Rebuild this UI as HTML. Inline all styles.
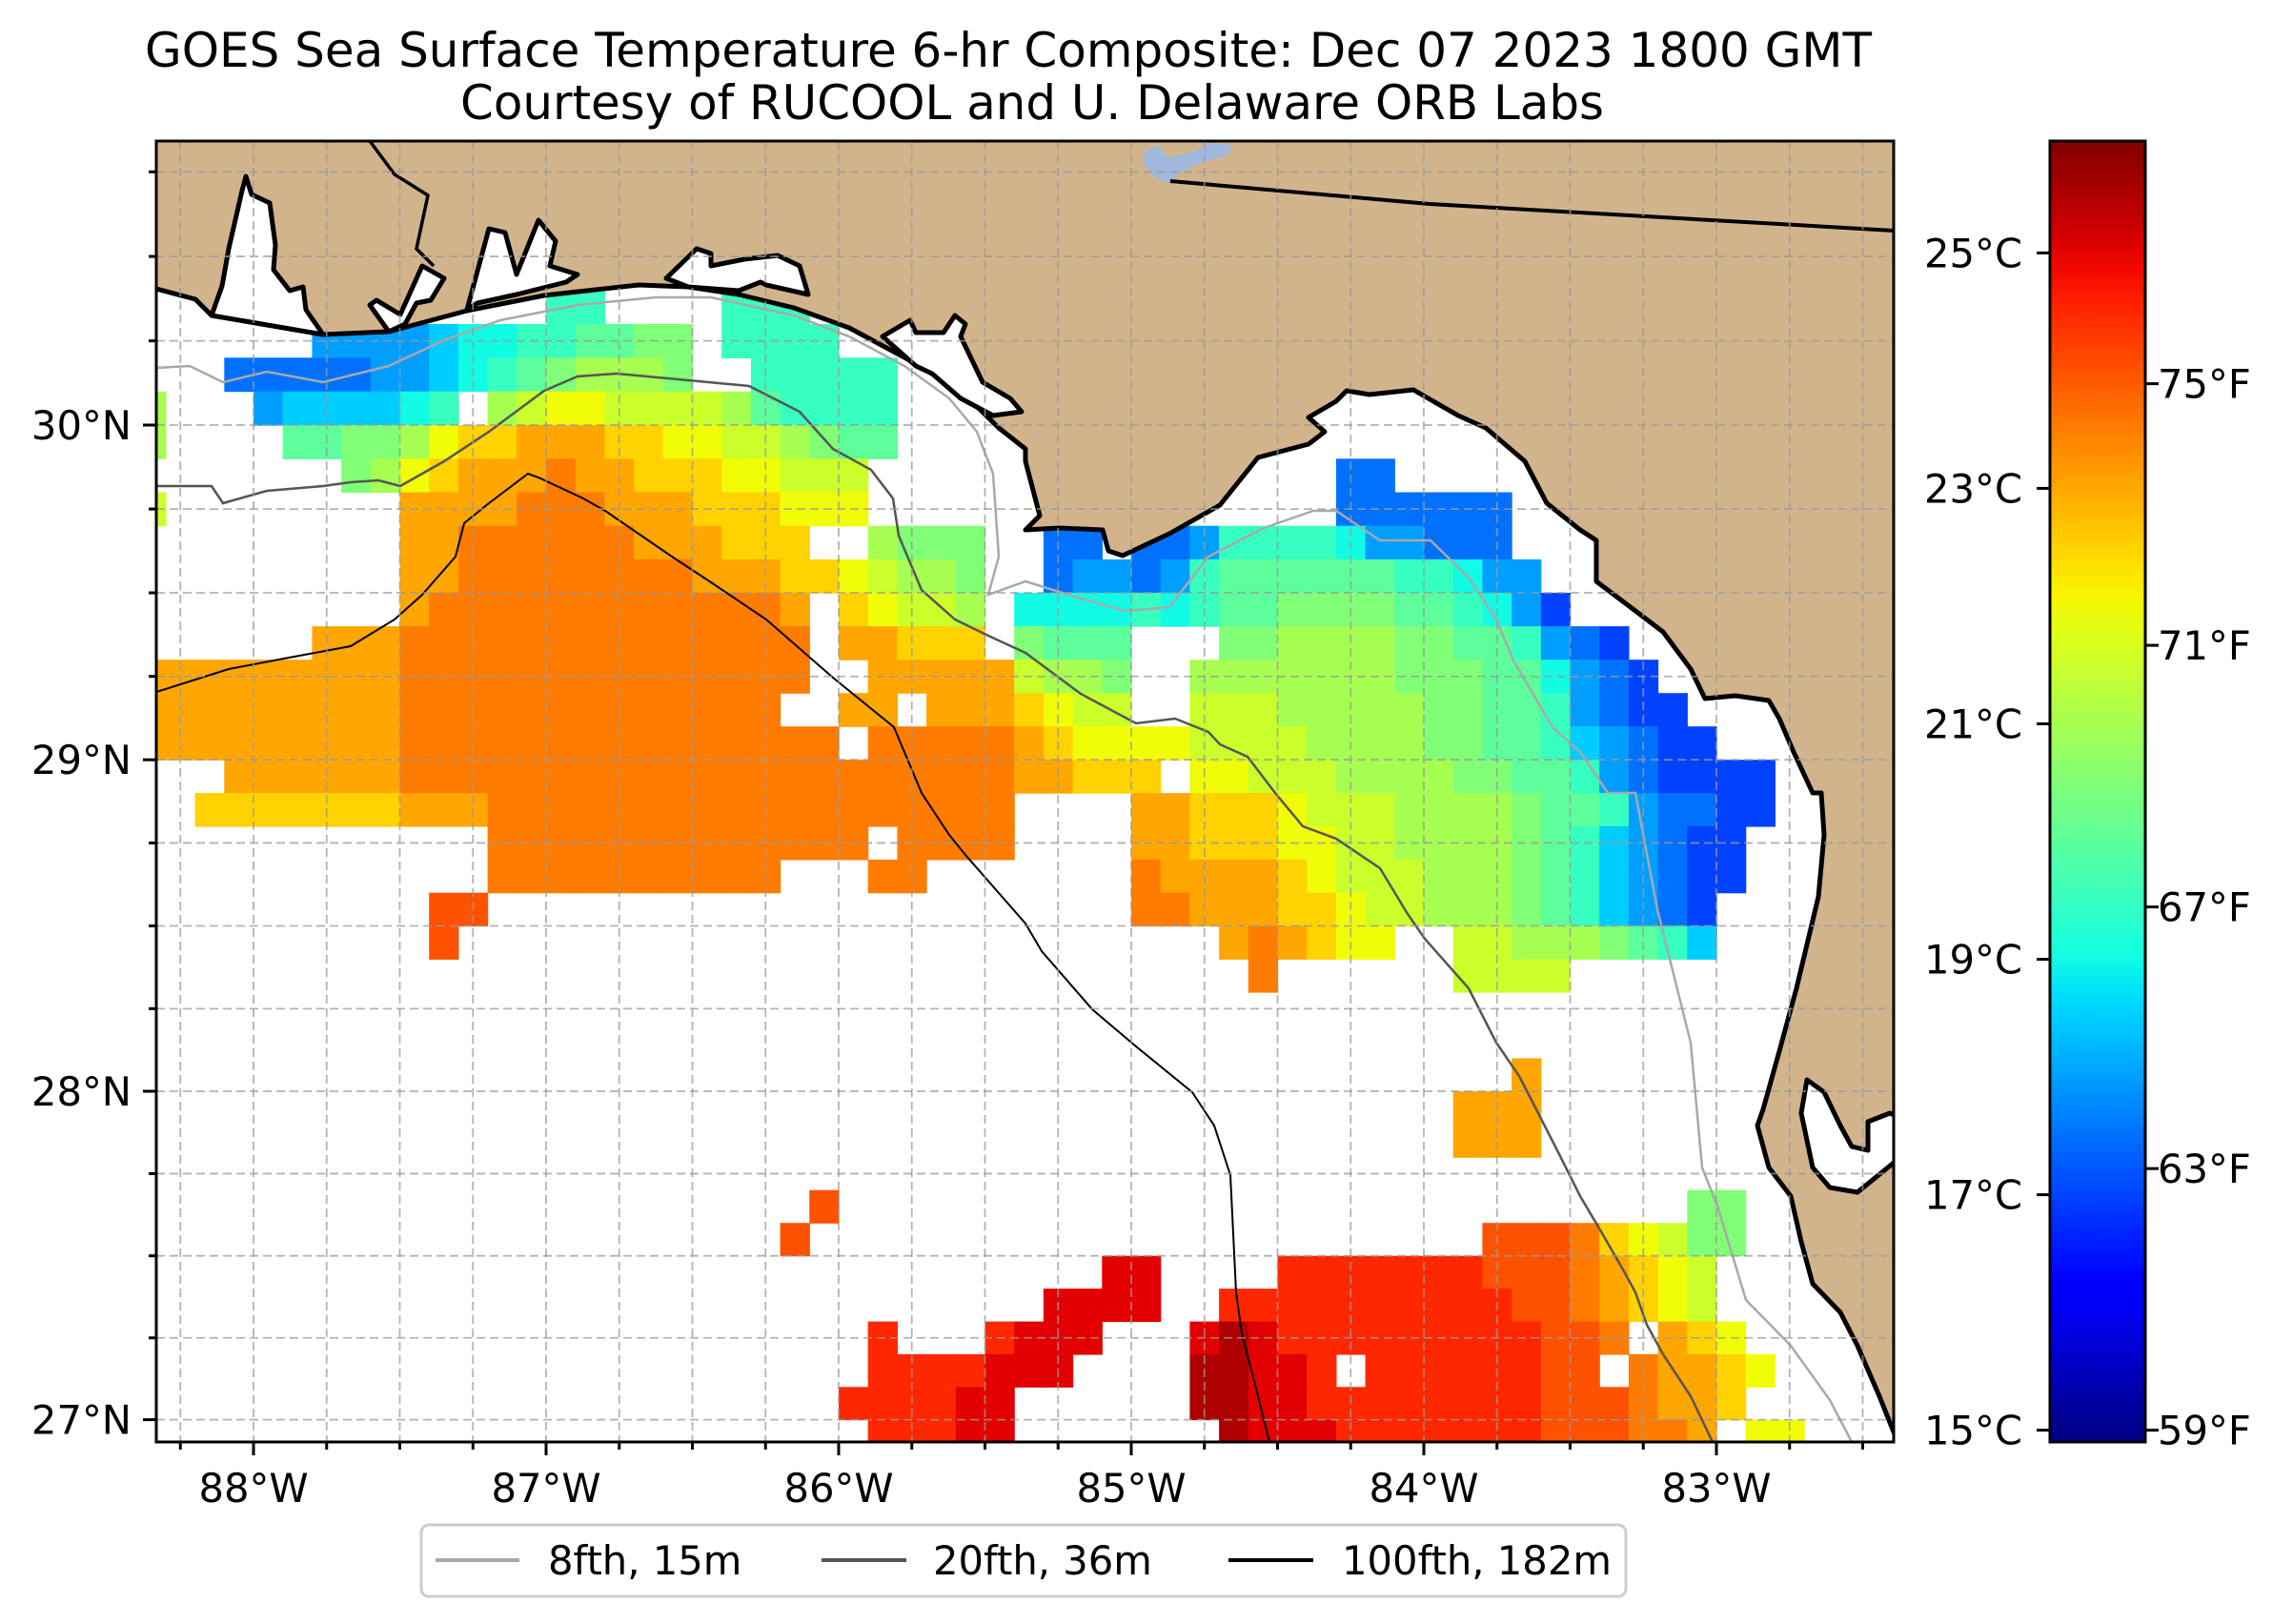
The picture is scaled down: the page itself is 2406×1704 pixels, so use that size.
<!DOCTYPE html>
<html><head><meta charset="utf-8"><style>
html,body{margin:0;padding:0;background:#fff;}
svg{display:block;font-family:"DejaVu Sans","Liberation Sans",sans-serif;}
</style></head><body>
<svg id="fig" width="2406" height="1704" viewBox="0 0 2406 1704" xmlns="http://www.w3.org/2000/svg">
<defs>
<clipPath id="mapclip"><rect x="164" y="148" width="1823" height="1365"/></clipPath>
<linearGradient id="jetgrad" x1="0" y1="1" x2="0" y2="0"></linearGradient>
</defs>
<rect x="0" y="0" width="2406" height="1704" fill="#fff"/>
<text x="1058" y="70" text-anchor="middle" font-size="50" textLength="1812" lengthAdjust="spacingAndGlyphs">GOES Sea Surface Temperature 6-hr Composite: Dec 07 2023 1800 GMT</text>
<text x="1083" y="125" text-anchor="middle" font-size="50" textLength="1200" lengthAdjust="spacingAndGlyphs">Courtesy of RUCOOL and U. Delaware ORB Labs</text>
<g id="map" clip-path="url(#mapclip)">
  <g id="cells"></g>
  <path fill="#d2b48c" stroke="#000" stroke-width="5" stroke-linejoin="round"
   d="M164,303 L205,314 L222,331 L339,351 L408,348 L490,326 L571,310 L670,299 L722,301 L775,309 L833,323 L891,344 L949,375 L1008,410 L1048,449 L1076,471 L1076,484 L1091,541 L1076,556 L1111,554 L1157,556 L1163,578 L1178,583 L1227,560 L1280,530 L1320,480 L1373,466 L1390,453 L1373,438 L1402,421 L1413,410 L1437,414 L1483,409 L1530,436 L1559,449 L1600,484 L1623,528 L1658,556 L1675,567 L1675,610 L1716,641 L1745,663 L1774,702 L1789,733 L1821,730 L1856,735 L1867,754 L1882,789 L1902,832 L1911,832 L1914,876 L1908,941 L1885,1037 L1867,1103 L1850,1164 L1844,1181 L1856,1225 L1879,1255 L1890,1303 L1902,1347 L1931,1377 L1949,1412 L1972,1465 L1992,1515 L1992,144 L160,144 L160,303 Z"/>
  <path fill="#fff" stroke="#000" stroke-width="5" stroke-linejoin="round" d="M222,331 L233,300 L240,261 L254,200 L258,185 L264,204 L283,213 L289,257 L287,283 L304,305 L318,301 L321,325 L339,351 Z"/>
  <path fill="#fff" stroke="#000" stroke-width="5" stroke-linejoin="round" d="M408,348 L388,320 L395,315 L420,330 L443,279 L466,292 L452,315 L437,318 L425,340 Z"/>
  <path fill="#fff" stroke="#000" stroke-width="5" stroke-linejoin="round" d="M490,325 L513,240 L530,244 L542,288 L565,231 L583,253 L577,279 L606,288 L594,296 L542,309 L501,318 Z"/>
  <path fill="#fff" stroke="#000" stroke-width="5" stroke-linejoin="round" d="M699,292 L731,261 L746,266 L746,279 L781,272 L816,268 L839,279 L848,309 L804,299 L798,296 L775,305 L722,301 Z"/>
  <path fill="#fff" stroke="#000" stroke-width="5" stroke-linejoin="round" d="M926,353 L955,336 L961,349 L990,349 L1002,331 L1013,340 L1008,353 L1031,401 L1060,418 L1072,432 L1042,436 L1008,418 L978,392 L961,384 Z"/>
  <path fill="#fff" stroke="#000" stroke-width="5" stroke-linejoin="round" d="M1896,1133 L1914,1146 L1931,1181 L1943,1203 L1960,1207 L1960,1177 L1983,1168 L1992,1172 L1992,1216 L1949,1251 L1920,1246 L1902,1225 L1890,1168 Z"/>
  <path fill="#9fb8dc" d="M1200,160 L1215,152 L1225,165 L1250,160 L1270,150 L1292,152 L1290,162 L1262,170 L1240,180 L1226,192 L1210,185 L1200,172 Z"/>
  <polyline fill="none" stroke="#000" stroke-width="4" points="1228,190 1500,214 1988,242"/>
  <polyline fill="none" stroke="#000" stroke-width="3.5" points="388,148 414,183 449,205 437,261 455,279"/>
  <polyline fill="none" stroke="#a9a9a9" stroke-width="2.5" points="164,386 199,384 234,401 280,390 339,401 408,384 466,357 525,336 606,320 688,312 746,312 833,331 891,353 949,384 996,418 1025,453 1042,497 1048,584 1037,624 1076,610 1134,628 1181,641 1227,637 1268,584 1326,554 1378,536 1402,536 1448,567 1501,567 1541,606 1570,650 1588,693 1629,763 1658,789 1687,832 1716,832 1739,954 1774,1094 1786,1225 1803,1268 1832,1364 1879,1412 1920,1469 1943,1513"/>
  <polyline fill="none" stroke="#555" stroke-width="2.5" points="164,510 187,510 222,510 234,528 280,515 339,510 368,506 397,504 420,510 466,484 513,453 571,410 606,395 647,392 722,399 786,405 839,432 874,471 914,493 937,523 943,562 967,619 1002,650 1037,667 1076,685 1134,728 1192,759 1233,754 1268,768 1280,781 1309,794 1338,832 1367,867 1402,880 1448,911 1477,959 1495,985 1541,1037 1570,1094 1594,1129 1634,1207 1658,1255 1681,1294 1704,1334 1716,1356 1728,1390 1745,1421 1774,1465 1797,1513"/>
  <polyline fill="none" stroke="#000" stroke-width="2" points="164,726 240,702 298,691 368,678 414,650 443,624 478,584 487,549 513,528 554,497 565,501 612,523 635,536 705,584 746,611 804,650 874,711 938,763 967,832 996,876 1013,897 1048,937 1076,969 1093,998 1146,1059 1192,1098 1251,1146 1274,1181 1291,1233 1297,1356 1303,1399 1320,1465 1332,1513"/>
  <g id="grid"></g>
</g>
<rect x="164" y="148" width="1823" height="1365" fill="none" stroke="#000" stroke-width="3"/>
<g id="axes"></g>
<g id="cbar"></g>
<g>
  <rect x="442" y="1600" width="1264" height="75" rx="8" fill="#fff" stroke="#ccc" stroke-width="3"/>
  <line x1="457" y1="1637" x2="545" y2="1637" stroke="#a9a9a9" stroke-width="4"/>
  <text x="575" y="1652" font-size="41.7">8fth, 15m</text>
  <line x1="862" y1="1637" x2="951" y2="1637" stroke="#555" stroke-width="4"/>
  <text x="979" y="1652" font-size="41.7">20fth, 36m</text>
  <line x1="1289" y1="1637" x2="1378" y2="1637" stroke="#000" stroke-width="4"/>
  <text x="1408" y="1652" font-size="41.7">100fth, 182m</text>
</g>
</svg>
<script>
// ---- data ----
const lonStart = -88.4, cellDeg = 0.1, latTop = 30.8, nCols = 60;
const tempCodes = "abcdefghijklmnopqrst"; // a=16.0C, step 0.5C
const tempBase = 16.0, tempStep = 0.5;
const sstRows = [
"","","","",
"14.2h4.3h",
"6.4ef2g2h2i2j.4h",
"3.5d2efghij3kj2.5h",
"k3.e4fgh.kl2m4lki4h",
"k4.2i2jkm2n3o2n2m2lkj2i",
"7.jkmn3op2o3n2m3l16.2d",
"l8.4o3p3o3n3m16.6d",
"9.2o6p3o3n2.k3j2.2d.2de4hg2e3d",
"9.2o8p3o2nml2kj2.d2edeh6i2hg2e",
"9.o12po.nm2lk.4ghgh2i4j2ihgec",
"6.3o14p.2o3n.j3i3.2j4k2j2ihedc",
"9o14p2.5ol2kj2.3k4k3j2igedc",
"9o13p2.2o.3onm2l2.3l2k3k2j2ihed2c",
"9o15p.5pon4m4l2k2k2j2ihfed2c",
"3.6o21p2o3n.2m3l2k2k2j2ihed4c",
"2.7n3o18p4.2o3nm3l2k2kj2ihe2d2c",
"12.13p.4p4.2o3n2m2l2k2kjihfed2c",
"12.10p3.2p3.4.p4onm3l3kjihfed2c",
"10.2q22.2p3o2nm2l2kkjihfedc",
"10.q26.opon2m2.2l2kkjihf",
"38.p6.4l",
"","",
"47.o",
"45.3o",
"45.3o",
"",
"23.q29.2j",
"22.q23.3qpnml2j",
"33.2s4.7r3qponml",
"31.4s2.10r2qponml",
"25.r3.r3s3.sts9r2qp.onm",
"25.4rs2s4.2t2sr.6r2q.p2onm",
"24.4r2s6.2t2s8r3qp2on",
"25.3r2s7.t3s7r3q2po.2m"
];
const lonTicks = [-88,-87,-86,-85,-84,-83];
const lonTickLabels = ["88°W","87°W","86°W","85°W","84°W","83°W"];
const latTicks = [27,28,29,30];
const latTickLabels = ["27°N","28°N","29°N","30°N"];
const cbarMin = 14.9, cbarMax = 25.95;
const cTicks = [15,17,19,21,23,25];
const cTickLabels = ["15°C","17°C","19°C","21°C","23°C","25°C"];
const fTicks = [59,63,67,71,75];
const fTickLabels = ["59°F","63°F","67°F","71°F","75°F"];

// ---- scales ----
const NS = "http://www.w3.org/2000/svg";
const X88 = 266, PXDEG = 307, Y30 = 446, KMERC = 17513;
function merc(lat){return Math.log(Math.tan(Math.PI/4 + lat*Math.PI/360));}
function lonX(lon){return X88 + (lon+88)*PXDEG;}
function latY(lat){return Y30 - (merc(lat)-merc(30))*KMERC;}
const CB_X = 2151, CB_W = 100, CB_TOP = 148, CB_BOT = 1513;
function cbY(t){return CB_BOT - (t-cbarMin)/(cbarMax-cbarMin)*(CB_BOT-CB_TOP);}
function interp(pts,t){for(let i=1;i<pts.length;i++){if(t<=pts[i][0]){const a=pts[i-1],b=pts[i];return a[1]+(b[1]-a[1])*(t-a[0])/(b[0]-a[0]);}}return pts[pts.length-1][1];}
function jet(t){t=Math.max(0,Math.min(1,t));
 const r=interp([[0,0],[0.35,0],[0.66,1],[0.89,1],[1,0.5]],t);
 const g=interp([[0,0],[0.125,0],[0.375,1],[0.64,1],[0.91,0],[1,0]],t);
 const b=interp([[0,0.5],[0.11,1],[0.34,1],[0.65,0],[1,0]],t);
 return "rgb("+Math.round(r*255)+","+Math.round(g*255)+","+Math.round(b*255)+")";}
function tempColor(T){return jet((T-cbarMin)/(cbarMax-cbarMin));}
function decode(s){let out="",num="";for(const ch of s){if(ch>="0"&&ch<="9"){num+=ch;}else{const n=num?parseInt(num):1;out+=ch.repeat(n);num="";}}while(out.length<nCols)out+=".";return out.slice(0,nCols);}
function mk(tag,attrs,parent){const e=document.createElementNS(NS,tag);for(const k in attrs)e.setAttribute(k,attrs[k]);parent.appendChild(e);return e;}

// ---- SST cells ----
const cells=document.getElementById("cells");
sstRows.forEach((rs,i)=>{
 const row=decode(rs);
 const latA=latTop-cellDeg*i, latB=latA-cellDeg;
 const y0=latY(latA), y1=latY(latB);
 for(let j=0;j<nCols;j++){
  const c=row[j]; const k=tempCodes.indexOf(c); if(k<0) continue;
  const T=tempBase+tempStep*k;
  const x0=lonX(lonStart+cellDeg*j), x1=lonX(lonStart+cellDeg*(j+1));
  const r=mk("rect",{x:x0.toFixed(1),y:y0.toFixed(1),width:(x1-x0+0.6).toFixed(1),height:(y1-y0+0.6).toFixed(1),fill:tempColor(T)},cells);
  
  
 }
});

// ---- gridlines ----
const grid=document.getElementById("grid");
for(let lon=-88.5;lon<=-82.25;lon+=0.25){
 const x=lonX(lon);
 const l=mk("line",{x1:x,y1:148,x2:x,y2:1513,stroke:"#9a9a9a","stroke-width":1.8,"stroke-dasharray":"9,5","stroke-opacity":0.75},grid);
 
 
}
for(let lat=26.75;lat<=31;lat+=0.25){
 const y=latY(lat);
 const l=mk("line",{x1:164,y1:y,x2:1987,y2:y,stroke:"#9a9a9a","stroke-width":1.8,"stroke-dasharray":"9,5","stroke-opacity":0.75},grid);
 
 
}

// ---- axes ticks ----
const axes=document.getElementById("axes");
for(let lon=-88.25;lon<=-82.4;lon+=0.25){
 const x=lonX(lon); if(x<164||x>1987) continue;
 const major=Math.abs(lon-Math.round(lon))<1e-6;
 const t=mk("line",{x1:x,y1:1513,x2:x,y2:1513+(major?14:8),stroke:"#000","stroke-width":3},axes);
 
 
}
for(let lat=27;lat<=30.85;lat+=0.25){
 const y=latY(lat); if(y<148||y>1513) continue;
 const major=Math.abs(lat-Math.round(lat))<1e-6;
 const t=mk("line",{x1:164,y1:y,x2:164-(major?14:8),y2:y,stroke:"#000","stroke-width":3},axes);
 
 
}
lonTicks.forEach((lon,i)=>{
 const t=mk("text",{x:lonX(lon),y:1576,"text-anchor":"middle","font-size":41.7},axes);
 t.textContent=lonTickLabels[i];
 
 
});
latTicks.forEach((lat,i)=>{
 const t=mk("text",{x:138,y:latY(lat)+15,"text-anchor":"end","font-size":41.7},axes);
 t.textContent=latTickLabels[i];
 
 
});

// ---- colorbar ----
const grad=document.getElementById("jetgrad");
for(let s=0;s<=40;s++){mk("stop",{offset:(s/40),"stop-color":jet(s/40)},grad);}
const cbar=document.getElementById("cbar");
const cbRect=mk("rect",{x:CB_X,y:CB_TOP,width:CB_W,height:CB_BOT-CB_TOP,fill:"url(#jetgrad)",stroke:"#000","stroke-width":3},cbar);


cTicks.forEach((c,i)=>{
 const y=cbY(c);
 const t=mk("line",{x1:CB_X,y1:y,x2:CB_X-14,y2:y,stroke:"#000","stroke-width":3},cbar);
 
 
 const l=mk("text",{x:2122,y:y+15,"text-anchor":"end","font-size":41.7},cbar);
 l.textContent=cTickLabels[i];
 
 
});
fTicks.forEach((f,i)=>{
 const y=cbY((f-32)*5/9);
 const t=mk("line",{x1:CB_X+CB_W,y1:y,x2:CB_X+CB_W+14,y2:y,stroke:"#000","stroke-width":3},cbar);
 
 
 const l=mk("text",{x:2264,y:y+15,"text-anchor":"start","font-size":41.7},cbar);
 l.textContent=fTickLabels[i];
 
 
});
</script>
</body></html>
